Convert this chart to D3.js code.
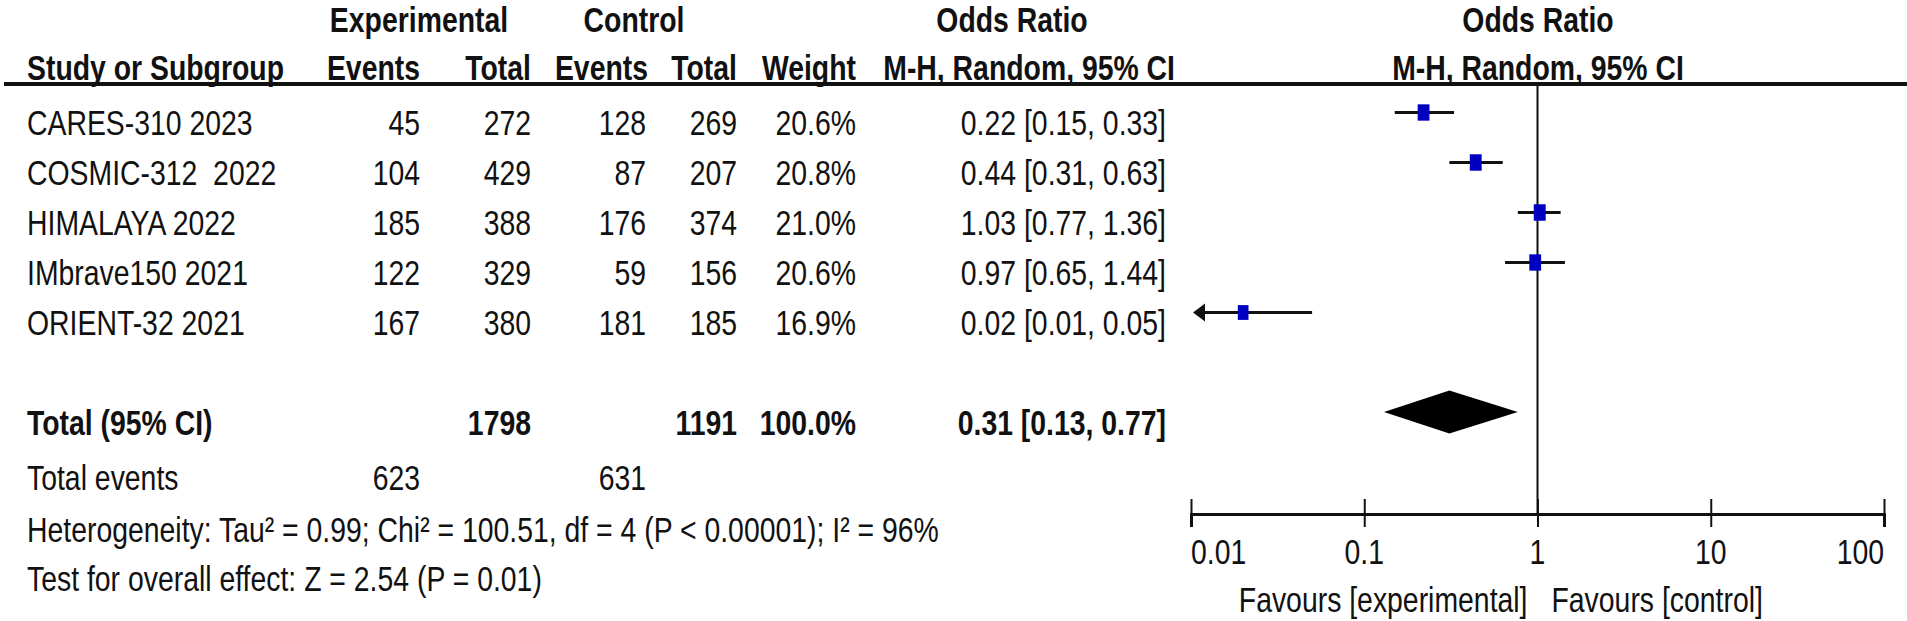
<!DOCTYPE html>
<html>
<head>
<meta charset="utf-8">
<script src="https://cdn.jsdelivr.net/npm/d3@7"></script>
<style>
  html, body { margin: 0; padding: 0; background: #fff; }
  text { font-family: "Liberation Sans", Arial, sans-serif; fill: #111; white-space: pre; }
</style>
</head>
<body>
<div id="chart"></div>
<script>
// study rows
const studies = ["CARES-310 2023", "COSMIC-312  2022", "HIMALAYA 2022", "IMbrave150 2021", "ORIENT-32 2021"];
const expEvents = [45, 104, 185, 122, 167];
const expTotal = [272, 429, 388, 329, 380];
const ctrlEvents = [128, 87, 176, 59, 181];
const ctrlTotal = [269, 207, 374, 156, 185];
const weights = [20.6, 20.8, 21.0, 20.6, 16.9];
const oddsRatio = [0.22, 0.44, 1.03, 0.97, 0.02];
const ciLow = [0.15, 0.31, 0.77, 0.65, 0.01];
const ciHigh = [0.33, 0.63, 1.36, 1.44, 0.05];

// pooled result
const pooled = { or: 0.31, lo: 0.13, hi: 0.77 };
const totals = { exp: 1798, ctrl: 1191, weight: "100.0%" };
const totalEvents = { exp: 623, ctrl: 631 };
const heterogeneity = "Heterogeneity: Tau² = 0.99; Chi² = 100.51, df = 4 (P < 0.00001); I² = 96%";
const overallTest = "Test for overall effect: Z = 2.54 (P = 0.01)";

const tickValues = [0.01, 0.1, 1, 10, 100];
const tickLabels = ["0.01", "0.1", "1", "10", "100"];

const W = 1907, H = 621;
const FS = 35;

const svg = d3.select("#chart").append("svg")
  .attr("width", W)
  .attr("height", H);

svg.append("rect").attr("width", W).attr("height", H).attr("fill", "#fff");

// the picture is squeezed sideways, so squeeze the text the same way
const probe = svg.append("text").attr("font-size", FS).text(heterogeneity);
const sx = 912 / probe.node().getComputedTextLength();
probe.remove();

function txt(x, cy, s, anchor, bold) {
  return svg.append("text")
    .attr("transform", `translate(${x},${cy + 0.36 * FS}) scale(${sx},1)`)
    .attr("font-size", FS)
    .attr("font-weight", bold ? "bold" : "normal")
    .attr("text-anchor", anchor || "start")
    .text(s);
}

// column right edges
const col = { name: 27, ee: 420, et: 531, ce: 646, ct: 737, w: 856, ci: 1166 };

const rowY = i => 112.5 + 50 * i;
const textOff = 10;

// header
const h1 = 19.5, h2 = 67;
txt(419, h1, "Experimental", "middle", true);
txt(634, h1, "Control", "middle", true);
txt(1012, h1, "Odds Ratio", "middle", true);
txt(1538, h1, "Odds Ratio", "middle", true);

txt(col.name, h2, "Study or Subgroup", "start", true);
txt(col.ee, h2, "Events", "end", true);
txt(col.et, h2, "Total", "end", true);
txt(col.ce + 2, h2, "Events", "end", true);
txt(col.ct, h2, "Total", "end", true);
txt(col.w, h2, "Weight", "end", true);
txt(1175, h2, "M-H, Random, 95% CI", "end", true);
txt(1538, h2, "M-H, Random, 95% CI", "middle", true);

svg.append("line")
  .attr("x1", 4).attr("x2", W)
  .attr("y1", 84).attr("y2", 84)
  .attr("stroke", "#111").attr("stroke-width", 4);

// rows
studies.forEach((s, i) => {
  const cy = rowY(i) + textOff;
  txt(col.name, cy, s, "start");
  txt(col.ee, cy, expEvents[i], "end");
  txt(col.et, cy, expTotal[i], "end");
  txt(col.ce, cy, ctrlEvents[i], "end");
  txt(col.ct, cy, ctrlTotal[i], "end");
  txt(col.w, cy, weights[i].toFixed(1) + "%", "end");
  txt(col.ci, cy, `${oddsRatio[i].toFixed(2)} [${ciLow[i].toFixed(2)}, ${ciHigh[i].toFixed(2)}]`, "end");
});

const totalY = 412;
txt(col.name, totalY + textOff, "Total (95% CI)", "start", true);
txt(col.et, totalY + textOff, totals.exp, "end", true);
txt(col.ct, totalY + textOff, totals.ctrl, "end", true);
txt(col.w, totalY + textOff, totals.weight, "end", true);
txt(col.ci, totalY + textOff, `${pooled.or.toFixed(2)} [${pooled.lo.toFixed(2)}, ${pooled.hi.toFixed(2)}]`, "end", true);

txt(col.name, 477, "Total events", "start");
txt(col.ee, 477, totalEvents.exp, "end");
txt(col.ce, 477, totalEvents.ctrl, "end");
txt(col.name, 529, heterogeneity, "start");
txt(col.name, 578, overallTest, "start");

// forest plot
const x = d3.scaleLog().domain([0.01, 100]).range([1191, 1884]);
const axisY = 514;

svg.append("line")
  .attr("x1", x(1)).attr("x2", x(1))
  .attr("y1", 84).attr("y2", axisY)
  .attr("stroke", "#111").attr("stroke-width", 2);

const xAxis = d3.axisBottom(x).tickValues(tickValues).tickSizeOuter(0).tickSize(13).tickFormat("");
const ax = svg.append("g")
  .attr("transform", `translate(0,${axisY})`)
  .call(xAxis);
ax.select(".domain").attr("stroke", "#111").attr("stroke-width", 3);
ax.selectAll(".tick line").attr("y1", -15).attr("stroke", "#111").attr("stroke-width", 2);

tickValues.forEach((v, i) => {
  const anchor = i === 0 ? "start" : (i === tickValues.length - 1 ? "end" : "middle");
  txt(x(v), 551, tickLabels[i], anchor);
});
txt(x(1) - 10, 599, "Favours [experimental]", "end");
txt(x(1) + 14, 599, "Favours [control]", "start");

const [xMin] = x.domain();
studies.forEach((s, i) => {
  const cy = rowY(i);
  const clipped = ciLow[i] <= xMin;
  const x0 = clipped ? x(xMin) + 4 : x(ciLow[i]);
  svg.append("line")
    .attr("x1", x0).attr("x2", x(ciHigh[i]))
    .attr("y1", cy).attr("y2", cy)
    .attr("stroke", "#111").attr("stroke-width", 3);
  if (clipped) {
    svg.append("path")
      .attr("d", `M${x(xMin) + 2},${cy} l12,-9 l0,18 z`)
      .attr("fill", "#111");
  }
  const sw = 2.6 * Math.sqrt(weights[i]);
  const sh = 3.6 * Math.sqrt(weights[i]);
  svg.append("rect")
    .attr("x", x(oddsRatio[i]) - sw / 2)
    .attr("y", cy - sh / 2)
    .attr("width", sw).attr("height", sh)
    .attr("fill", "#0000c0");
});

const dh = 21.5;
svg.append("path")
  .attr("d", `M${x(pooled.lo)},${totalY} L${x(pooled.or)},${totalY - dh} L${x(pooled.hi)},${totalY} L${x(pooled.or)},${totalY + dh} Z`)
  .attr("fill", "#000");
</script>
</body>
</html>
